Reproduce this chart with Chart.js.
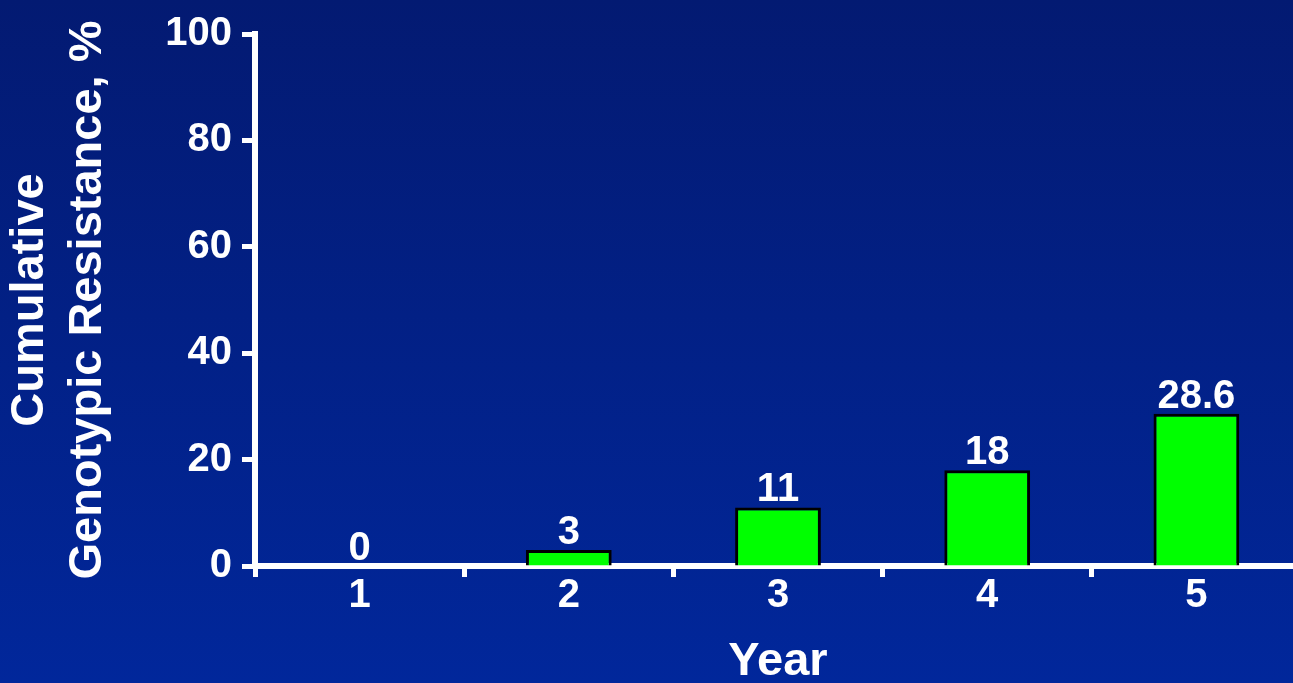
<!DOCTYPE html>
<html>
<head>
<meta charset="utf-8">
<script src="https://cdn.jsdelivr.net/npm/chart.js@4/dist/chart.umd.min.js"></script>
<style>
  html, body {
    margin: 0;
    padding: 0;
    overflow: hidden;
    background: linear-gradient(to bottom, #031a72 0%, #01279b 100%);
    width: 1293px;
    height: 683px;
  }
  #wrap {
    position: absolute;
    left: 0;
    top: 0;
    width: 1301px;
    height: 683px;
  }
</style>
</head>
<body>
<div id="wrap"><canvas id="resistChart"></canvas></div>
<script>
  const years = ['1', '2', '3', '4', '5'];
  const resistance = [0, 3, 11, 18, 28.6];
  const yTicks = [0, 20, 40, 60, 80, 100];

  const FONT = "'Liberation Sans', Arial, Helvetica, sans-serif";

  // Writes each bar's value just above it.
  const valueLabels = {
    id: 'valueLabels',
    afterDatasetsDraw(chart) {
      const ctx = chart.ctx;
      const meta = chart.getDatasetMeta(0);
      ctx.save();
      ctx.fillStyle = '#ffffff';
      ctx.font = 'bold 40px ' + FONT;
      ctx.textAlign = 'center';
      ctx.textBaseline = 'alphabetic';
      meta.data.forEach((bar, i) => {
        ctx.fillText(String(resistance[i]), bar.x, bar.y - 6);
      });
      ctx.restore();
    }
  };

  const ctx = document.getElementById('resistChart').getContext('2d');

  new Chart(ctx, {
    type: 'bar',
    data: {
      labels: years,
      datasets: [{
        data: resistance,
        backgroundColor: '#00ff00',
        borderColor: '#000000',
        borderWidth: 3,
        borderSkipped: 'bottom',
        categoryPercentage: 1,
        barPercentage: 0.41
      }]
    },
    options: {
      responsive: true,
      maintainAspectRatio: false,
      animation: false,
      layout: { padding: { top: 31, left: 0, right: 0, bottom: 0 } },
      plugins: {
        legend: { display: false },
        tooltip: { enabled: false }
      },
      scales: {
        x: {
          offset: true,
          afterFit(scale) { scale.height = 117; },
          border: { display: true, color: '#ffffff', width: 6 },
          grid: {
            display: true,
            offset: true,
            drawOnChartArea: false,
            drawTicks: true,
            tickLength: 11,
            tickWidth: 5,
            tickColor: '#ffffff'
          },
          ticks: {
            color: '#ffffff',
            padding: -5,
            font: { family: FONT, size: 40, weight: 'bold' }
          },
          title: {
            display: true,
            text: 'Year',
            color: '#ffffff',
            padding: { top: 0, bottom: -3 },
            font: { family: FONT, size: 47, weight: 'bold', lineHeight: 1 }
          }
        },
        y: {
          min: 0,
          max: 100,
          afterFit(scale) { scale.width = 255; },
          afterBuildTicks(scale) {
            scale.ticks = yTicks.map(v => ({ value: v }));
          },
          border: { display: true, color: '#ffffff', width: 6 },
          grid: {
            display: true,
            drawOnChartArea: false,
            drawTicks: true,
            tickLength: 13,
            tickWidth: 5,
            tickColor: '#ffffff'
          },
          ticks: {
            color: '#ffffff',
            padding: 10,
            font: { family: FONT, size: 40, weight: 'bold' }
          },
          title: {
            display: true,
            text: ['Cumulative', 'Genotypic Resistance, %'],
            color: '#ffffff',
            padding: { top: 1, bottom: 0 },
            font: { family: FONT, size: 47, weight: 'bold', lineHeight: 1.234 }
          }
        }
      }
    },
    plugins: [valueLabels]
  });
</script>
</body>
</html>
